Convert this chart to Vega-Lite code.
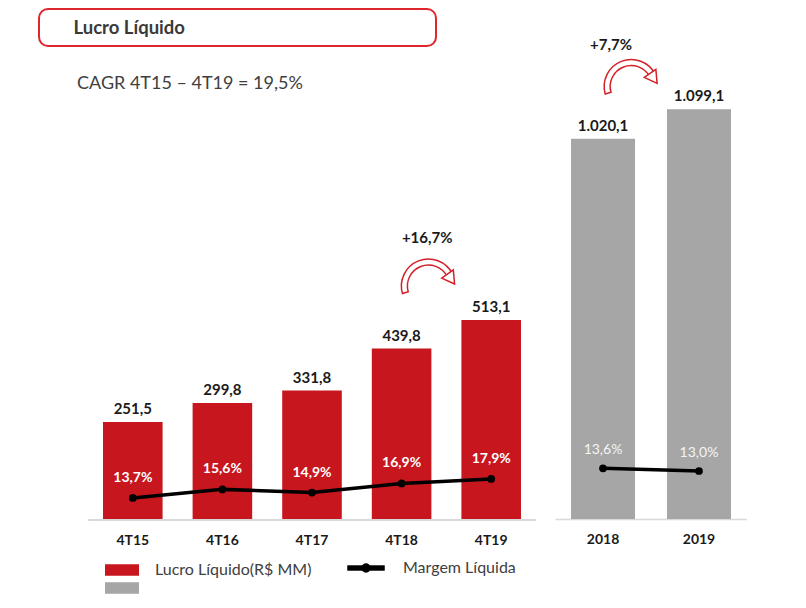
{
  "$schema": "https://vega.github.io/schema/vega-lite/v6.json",
  "padding": {"left": 38, "top": 8, "right": 0, "bottom": 0},
  "autosize": {"type": "pad"},
  "background": "#ffffff",
  "config": {
    "font": "Lato",
    "view": {"stroke": null},
    "locale": {"number": {"decimal": ",", "thousands": ".", "grouping": [3], "currency": ["R$ ", ""]}},
    "axis": {"grid": false}
  },
  "datasets": {
    "trimestral": [
      {"periodo": "4T15", "lucro": 251.5, "margem": 0.137, "serie": "Lucro Líquido(R$ MM)", "linha": "Margem Líquida"},
      {"periodo": "4T16", "lucro": 299.8, "margem": 0.156, "serie": "Lucro Líquido(R$ MM)", "linha": "Margem Líquida"},
      {"periodo": "4T17", "lucro": 331.8, "margem": 0.149, "serie": "Lucro Líquido(R$ MM)", "linha": "Margem Líquida"},
      {"periodo": "4T18", "lucro": 439.8, "margem": 0.169, "serie": "Lucro Líquido(R$ MM)", "linha": "Margem Líquida"},
      {"periodo": "4T19", "lucro": 513.1, "margem": 0.179, "serie": "Lucro Líquido(R$ MM)", "linha": "Margem Líquida"}
    ],
    "anual": [
      {"periodo": "2018", "lucro": 1020.1, "margem": 0.136, "serie": "Lucro Líquido anual", "linha": "Margem Líquida"},
      {"periodo": "2019", "lucro": 1099.1, "margem": 0.130, "serie": "Lucro Líquido anual", "linha": "Margem Líquida"}
    ]
  },
  "hconcat": [
    {
      "spacing": 0,
      "vconcat": [
        {
          "width": 397,
          "height": 37,
          "data": {"values": [{"titulo": "Lucro Líquido"}]},
          "mark": {"type": "text", "align": "left", "baseline": "middle", "dx": -164, "fontSize": 18.5, "fontWeight": "bold", "color": "#3a3a3a"},
          "encoding": {"text": {"field": "titulo", "type": "nominal"}},
          "view": {"stroke": "#e0262d", "strokeWidth": 2, "cornerRadius": 9}
        },
        {
          "width": 497,
          "height": 473,
          "data": {"name": "trimestral"},
          "title": {"text": "CAGR 4T15 – 4T19 = 19,5%", "anchor": "start", "frame": "group", "offset": -46, "dx": 38, "fontSize": 18, "fontWeight": "normal", "color": "#404040"},
          "encoding": {
            "x": {
              "field": "periodo", "type": "nominal", "sort": null,
              "scale": {"paddingInner": 0.335, "paddingOuter": 0.441, "align": 0.81},
              "axis": {"title": null, "domain": false, "ticks": false, "labelAngle": 0, "labelPadding": 13, "labelFontSize": 14, "labelFontWeight": "bold", "labelColor": "#1a1a1a"}
            }
          },
          "layer": [
            {
              "mark": {"type": "bar"},
              "encoding": {
                "y": {"field": "lucro", "type": "quantitative", "scale": {"domain": [0, 1213]}, "axis": null},
                "color": {"field": "serie", "type": "nominal",
                  "scale": {"domain": ["Lucro Líquido(R$ MM)", "Lucro Líquido anual"], "range": ["#c8161e", "#a6a6a6"]},
                  "legend": {"orient": "none", "legendX": 73, "legendY": 551, "title": null, "direction": "vertical",
                    "symbolType": "M-1.7,-0.58H1.7V0.58H-1.7Z", "symbolSize": 400, "symbolStrokeWidth": 0,
                    "labelExpr": "datum.label == 'Lucro Líquido(R$ MM)' ? datum.label : ''",
                    "labelFontSize": 16, "labelColor": "#404040", "labelOffset": 23, "rowPadding": 0}
                }
              }
            },
            {
              "mark": {"type": "text", "baseline": "alphabetic", "dy": -8, "fontSize": 15, "fontWeight": "bold", "color": "#1a1a1a"},
              "encoding": {
                "y": {"field": "lucro", "type": "quantitative", "scale": {"domain": [0, 1213]}, "axis": null},
                "text": {"field": "lucro", "type": "quantitative", "format": ",.1f"}
              }
            },
            {
              "mark": {"type": "rule", "color": "#d9d9d9", "strokeWidth": 1.5},
              "encoding": {
                "x": {"datum": "4T15", "bandPosition": -0.25},
                "x2": {"datum": "4T19", "bandPosition": 1.25},
                "y": {"datum": 0, "type": "quantitative", "scale": {"domain": [0, 1213]}, "axis": null}
              }
            },
            {
              "mark": {"type": "line", "strokeWidth": 3.5},
              "encoding": {
                "y": {"field": "margem", "type": "quantitative", "scale": {"domain": [0.0883, 1.134]}, "axis": null},
                "stroke": {"field": "linha", "type": "nominal",
                  "scale": {"domain": ["Margem Líquida"], "range": ["#000000"]},
                  "legend": {"orient": "none", "legendX": 308, "legendY": 540, "title": null,
                    "symbolType": "M-1,-0.13H1V0.13H-1Z M0.24,0A0.24,0.24,0,1,1,-0.24,0A0.24,0.24,0,1,1,0.24,0Z",
                    "symbolSize": 1369, "symbolFillColor": "#000000", "symbolStrokeWidth": 0.5,
                    "labelFontSize": 16, "labelColor": "#404040", "labelOffset": 18}
                }
              }
            },
            {
              "mark": {"type": "point", "filled": true, "size": 60, "color": "#000000", "opacity": 1},
              "encoding": {
                "y": {"field": "margem", "type": "quantitative", "scale": {"domain": [0.0883, 1.134]}, "axis": null}
              }
            },
            {
              "mark": {"type": "text", "baseline": "middle", "dy": -20, "fontSize": 14, "fontWeight": "bold", "color": "#ffffff"},
              "encoding": {
                "y": {"field": "margem", "type": "quantitative", "scale": {"domain": [0.0883, 1.134]}, "axis": null},
                "text": {"field": "margem", "type": "quantitative", "format": ".1%"}
              }
            },
            {
              "data": {"values": [{"variacao": 0.167}]},
              "mark": {"type": "text", "baseline": "middle", "fontSize": 15, "fontWeight": "bold", "color": "#1a1a1a"},
              "encoding": {
                "x": {"datum": "4T18", "bandPosition": 0.93},
                "y": {"datum": 723, "type": "quantitative", "scale": {"domain": [0, 1213]}, "axis": null},
                "text": {"field": "variacao", "type": "quantitative", "format": "+.1%"}
              }
            },
            {
              "data": {"values": [{"seta": 1}]},
              "mark": {"type": "arc", "theta": -1.85, "theta2": 1.1, "innerRadius": 21, "outerRadius": 27, "fill": "#ffffff", "stroke": "#d42027", "strokeWidth": 1.5},
              "encoding": {
                "x": {"datum": "4T18", "bandPosition": 0.95},
                "y": {"datum": 600, "type": "quantitative", "scale": {"domain": [0, 1213]}, "axis": null}
              }
            },
            {
              "data": {"values": [{"seta": 1}]},
              "mark": {"type": "point", "shape": "triangle-down", "angle": -35, "size": 200, "filled": true, "fill": "#ffffff", "stroke": "#d42027", "strokeWidth": 1.5, "opacity": 1},
              "encoding": {
                "x": {"datum": "4T18", "bandPosition": 1.33},
                "y": {"datum": 618, "type": "quantitative", "scale": {"domain": [0, 1213]}, "axis": null}
              }
            }
          ],
          "resolve": {"scale": {"y": "independent"}}
        }
      ]
    },
    {
      "width": 192,
      "height": 510,
      "data": {"name": "anual"},
      "encoding": {
        "x": {
          "field": "periodo", "type": "nominal", "sort": null,
          "scale": {"paddingInner": 0.333, "paddingOuter": 0.1667},
          "axis": {"title": null, "domain": true, "domainColor": "#d9d9d9", "domainWidth": 1.5, "ticks": false, "labelAngle": 0, "labelPadding": 13, "labelFontSize": 14, "labelFontWeight": "bold", "labelColor": "#1a1a1a"}
        }
      },
      "layer": [
        {
          "mark": {"type": "bar"},
          "encoding": {
            "y": {"field": "lucro", "type": "quantitative", "scale": {"domain": [0, 1368]}, "axis": null},
            "color": {"field": "serie", "type": "nominal",
              "scale": {"domain": ["Lucro Líquido(R$ MM)", "Lucro Líquido anual"], "range": ["#c8161e", "#a6a6a6"]}}
          }
        },
        {
          "mark": {"type": "text", "baseline": "alphabetic", "dy": -8, "fontSize": 15, "fontWeight": "bold", "color": "#1a1a1a"},
          "encoding": {
            "y": {"field": "lucro", "type": "quantitative", "scale": {"domain": [0, 1368]}, "axis": null},
            "text": {"field": "lucro", "type": "quantitative", "format": ",.1f"}
          }
        },
        {
          "mark": {"type": "line", "strokeWidth": 3.5},
          "encoding": {
            "y": {"field": "margem", "type": "quantitative", "scale": {"domain": [0.0233, 1.157]}, "axis": null},
            "stroke": {"field": "linha", "type": "nominal", "scale": {"domain": ["Margem Líquida"], "range": ["#000000"]}}
          }
        },
        {
          "mark": {"type": "point", "filled": true, "size": 60, "color": "#000000", "opacity": 1},
          "encoding": {
            "y": {"field": "margem", "type": "quantitative", "scale": {"domain": [0.0233, 1.157]}, "axis": null}
          }
        },
        {
          "mark": {"type": "text", "baseline": "middle", "dy": -18, "fontSize": 14, "fontWeight": "normal", "color": "#f5f5f5"},
          "encoding": {
            "y": {"field": "margem", "type": "quantitative", "scale": {"domain": [0.0233, 1.157]}, "axis": null},
            "text": {"field": "margem", "type": "quantitative", "format": ".1%"}
          }
        },
        {
          "data": {"values": [{"variacao": 0.077}]},
          "mark": {"type": "text", "baseline": "middle", "fontSize": 15, "fontWeight": "bold", "color": "#1a1a1a"},
          "encoding": {
            "x": {"datum": "2018", "bandPosition": 0.625},
            "y": {"datum": 1272, "type": "quantitative", "scale": {"domain": [0, 1368]}, "axis": null},
            "text": {"field": "variacao", "type": "quantitative", "format": "+.1%"}
          }
        },
        {
          "data": {"values": [{"seta": 1}]},
          "mark": {"type": "arc", "theta": -1.85, "theta2": 1.1, "innerRadius": 21, "outerRadius": 27, "fill": "#ffffff", "stroke": "#d42027", "strokeWidth": 1.5},
          "encoding": {
            "x": {"datum": "2018", "bandPosition": 0.94},
            "y": {"datum": 1160, "type": "quantitative", "scale": {"domain": [0, 1368]}, "axis": null}
          }
        },
        {
          "data": {"values": [{"seta": 1}]},
          "mark": {"type": "point", "shape": "triangle-down", "angle": -35, "size": 200, "filled": true, "fill": "#ffffff", "stroke": "#d42027", "strokeWidth": 1.5, "opacity": 1},
          "encoding": {
            "x": {"datum": "2018", "bandPosition": 1.29},
            "y": {"datum": 1182, "type": "quantitative", "scale": {"domain": [0, 1368]}, "axis": null}
          }
        }
      ],
      "resolve": {"scale": {"y": "independent"}}
    }
  ],
  "spacing": 18,
  "resolve": {"scale": {"color": "shared", "stroke": "shared"}, "legend": {"color": "shared", "stroke": "shared"}}
}
